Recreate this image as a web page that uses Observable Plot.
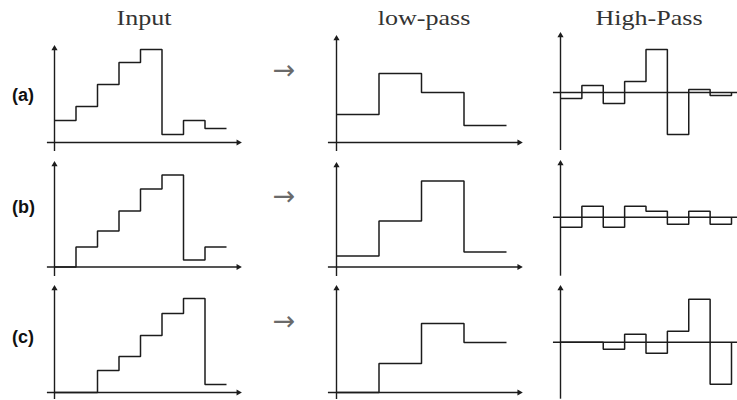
<!DOCTYPE html>
<html>
<head>
<meta charset="utf-8">
<script src="https://cdn.jsdelivr.net/npm/d3@7"></script>
<script src="https://cdn.jsdelivr.net/npm/@observablehq/plot@0.6"></script>
<style>
  html, body { margin: 0; padding: 0; background: #fff; }
  #chart { position: relative; width: 737px; height: 400px; overflow: hidden; background: #fff; }
  #chart svg { position: absolute; left: 0; top: 0; }
  .title { position: absolute; font-family: "Liberation Serif", "Times New Roman", serif; font-size: 21px; line-height: 21px; color: #333; white-space: nowrap; transform: translateX(-50%) scaleX(1.24); }
  .row { position: absolute; font-family: "Liberation Sans", Arial, sans-serif; font-weight: bold; font-size: 18px; line-height: 18px; color: #111; }
  .arrow { position: absolute; font-family: "DejaVu Sans", sans-serif; font-size: 27px; line-height: 27px; color: #6a6a6a; transform: translate(-50%, -50%); }
</style>
</head>
<body>
<div id="chart"></div>
<script>
// Haar decomposition of three shifted step signals: input, low-pass (pair averages), high-pass (details)
const columnTitles = ["Input", "low-pass", "High-Pass"];
const rowLabels = ["(a)", "(b)", "(c)"];

const inputA = [22, 36, 58, 80, 93, 8, 22, 14];
const inputB = [0, 20, 36, 56, 78, 92, 7, 20];
const inputC = [0, 0, 22, 36, 57, 79, 94, 8];

const lowA = [28, 69, 50, 17];
const lowB = [11, 46, 86, 15];
const lowC = [0, 29, 69, 50];

const highA = [-6, 7, -11, 11, 43, -42, 3, -3];
const highB = [-10, 11, -10, 11, 6, -7, 6, -7];
const highC = [0, 0, -7, 8, -11, 11, 43, -42];

// page layout for the 3x3 grid of panels
const W = 737, H = 400;
const columns = [
  {left: 54, right: 226, xAxis: [-0.33, 8.55], arrowX: true, closeEnd: false},
  {left: 336, right: 506, xAxis: [-0.19, 4.3], arrowX: true, closeEnd: false},
  {left: 560, right: 731, xAxis: [-0.33, 8.4], arrowX: false, closeEnd: true}
];
// baseline (or zero line) of each row, and y-axis extent per column
const rows = [
  {base: [142, 142, 92], yTop: [94, 104, 57], yBottom: [-9, -9, -58]},
  {base: [266.5, 266.5, 216.7], yTop: [102.5, 101.5, 53.7], yBottom: [-9.5, -9.5, -59]},
  {base: [392, 392, 341.7], yTop: [104, 104, 53.7], yBottom: [-7, -7, -57]}
];
const series = [
  [inputA, lowA, highA],
  [inputB, lowB, highB],
  [inputC, lowC, highC]
];

const ink = "#1c1c1c";
const chart = document.getElementById("chart");

function panel(values, col, r, c) {
  const n = values.length;
  const base = rows[r].base[c];
  const symmetric = c === 2;
  const yDomain = symmetric ? [-60, 60] : [-10, 110];
  // one y unit per pixel: place the zero of the scale on the row baseline
  const marginTop = base - yDomain[1];
  const marginBottom = H - (base - yDomain[0]);
  const pts = values.map((v, i) => ({x: i, y: v}));
  pts.push({x: n, y: col.closeEnd ? 0 : values[n - 1]});
  const [x1, x2] = col.xAxis;
  const yTop = rows[r].yTop[c], yBottom = rows[r].yBottom[c];
  const marks = [
    Plot.ruleY([0], {x1, x2, stroke: ink, strokeWidth: 1.4}),
    Plot.ruleX([0], {y1: yBottom, y2: yTop, stroke: ink, strokeWidth: 1.4}),
    Plot.dot([{x: 0, y: yTop}], {x: "x", y: "y", symbol: "triangle", r: 2.3, fill: ink, stroke: "none"}),
    Plot.line(pts, {x: "x", y: "y", curve: "step-after", stroke: ink, strokeWidth: 1.5, strokeLinejoin: "miter", strokeLinecap: "butt"})
  ];
  if (col.arrowX) {
    marks.push(Plot.dot([{x: x2, y: 0}], {x: "x", y: "y", symbol: "triangle", r: 2.3, rotate: 90, fill: ink, stroke: "none"}));
  }
  return Plot.plot({
    width: W,
    height: H,
    marginLeft: col.left,
    marginRight: W - col.right,
    marginTop,
    marginBottom,
    x: {domain: [0, n], axis: null},
    y: {domain: yDomain, axis: null},
    style: {background: "transparent", overflow: "visible"},
    marks
  });
}

series.forEach((rowSeries, r) => {
  rowSeries.forEach((values, c) => {
    chart.appendChild(panel(values, columns[c], r, c));
  });
});

// column titles
const titleCenters = [143.7, 424, 648.5];
columnTitles.forEach((t, i) => {
  const d = document.createElement("div");
  d.className = "title";
  d.textContent = t;
  d.style.left = titleCenters[i] + "px";
  d.style.top = "8.4px";
  chart.appendChild(d);
});

// row labels and arrows between input and low-pass
const labelTops = [85.7, 197.7, 327.7];
const arrowCenters = [69, 195, 320];
rowLabels.forEach((t, i) => {
  const d = document.createElement("div");
  d.className = "row";
  d.textContent = t;
  d.style.left = "12px";
  d.style.top = labelTops[i] + "px";
  chart.appendChild(d);
  const a = document.createElement("div");
  a.className = "arrow";
  a.textContent = "→";
  a.style.left = "284px";
  a.style.top = arrowCenters[i] + "px";
  chart.appendChild(a);
});
</script>
</body>
</html>
